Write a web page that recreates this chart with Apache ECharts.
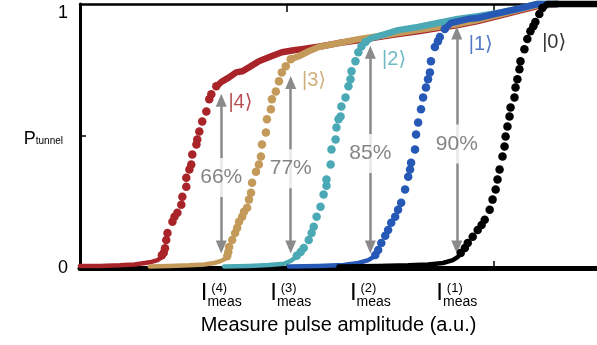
<!DOCTYPE html>
<html>
<head>
<meta charset="utf-8">
<script src="https://cdn.jsdelivr.net/npm/echarts@6.0.0/dist/echarts.min.js"></script>
<style>
  html, body { margin: 0; padding: 0; background: #fff; }
  #chart { width: 597px; height: 345px; }
</style>
</head>
<body>
<div id="chart"></div>
<script>
  // curves: low tail (dense), rising part (dots), upper plateau (dense)
  const ket4Low = [[0, 0.008], [0.096, 0.008], [0.192, 0.010], [0.264, 0.013], [0.313, 0.019], [0.346, 0.023], [0.375, 0.030], [0.394, 0.040]];
  const ket4Rise = [[0.396, 0.048], [0.405, 0.058], [0.411, 0.075], [0.417, 0.106], [0.423, 0.133], [0.447, 0.175], [0.457, 0.194], [0.471, 0.209], [0.490, 0.240], [0.495, 0.270], [0.514, 0.308], [0.514, 0.342], [0.529, 0.373], [0.538, 0.392], [0.543, 0.430], [0.563, 0.468], [0.567, 0.487], [0.577, 0.517], [0.591, 0.555], [0.611, 0.593], [0.625, 0.639], [0.635, 0.658], [0.659, 0.688]];
  const ket4High = [[0.659, 0.688], [0.688, 0.707], [0.721, 0.722], [0.755, 0.741], [0.784, 0.745], [0.817, 0.760], [0.865, 0.783], [0.913, 0.798], [0.976, 0.817], [1.034, 0.825], [1.072, 0.829], [1.168, 0.840], [1.250, 0.852], [1.346, 0.863], [1.442, 0.875], [1.538, 0.886], [1.635, 0.897], [1.731, 0.909], [1.827, 0.920], [1.923, 0.935], [2.019, 0.954], [2.115, 0.973], [2.212, 0.992], [2.308, 1.0]];

  const ket3Low = [[0.337, 0.006], [0.433, 0.008], [0.529, 0.010], [0.601, 0.013], [0.649, 0.019], [0.683, 0.027], [0.705, 0.036]];
  const ket3Rise = [[0.712, 0.045], [0.717, 0.060], [0.721, 0.080], [0.736, 0.106], [0.750, 0.133], [0.760, 0.152], [0.769, 0.175], [0.784, 0.194], [0.793, 0.213], [0.808, 0.228], [0.817, 0.259], [0.827, 0.285], [0.832, 0.323], [0.851, 0.365], [0.865, 0.392], [0.875, 0.422], [0.880, 0.468], [0.899, 0.513], [0.904, 0.563], [0.923, 0.601], [0.928, 0.639], [0.947, 0.669], [0.962, 0.707], [0.976, 0.741], [0.995, 0.764], [1.019, 0.791]];
  const ket3High = [[1.019, 0.791], [1.058, 0.802], [1.106, 0.821], [1.154, 0.837], [1.250, 0.852], [1.346, 0.867], [1.442, 0.878], [1.538, 0.890], [1.635, 0.901], [1.731, 0.913], [1.827, 0.924], [1.923, 0.939], [2.019, 0.958], [2.115, 0.977], [2.212, 0.996], [2.308, 1.0]];

  const ket2Low = [[0.697, 0.006], [0.817, 0.008], [0.913, 0.011], [0.986, 0.016], [1.019, 0.027], [1.040, 0.038]];
  const ket2Rise = [[1.048, 0.046], [1.067, 0.061], [1.082, 0.076], [1.106, 0.106], [1.120, 0.133], [1.130, 0.156], [1.144, 0.194], [1.163, 0.232], [1.178, 0.278], [1.192, 0.312], [1.192, 0.335], [1.212, 0.392], [1.216, 0.449], [1.236, 0.487], [1.240, 0.532], [1.250, 0.563], [1.260, 0.574], [1.264, 0.612], [1.284, 0.646], [1.298, 0.688], [1.308, 0.715], [1.313, 0.745], [1.332, 0.783], [1.346, 0.817], [1.361, 0.840], [1.380, 0.856]];
  const ket2High = [[1.380, 0.856], [1.409, 0.871], [1.476, 0.886], [1.538, 0.901], [1.635, 0.913], [1.731, 0.928], [1.827, 0.943], [1.923, 0.954], [2.019, 0.966], [2.115, 0.981], [2.212, 1.0], [2.308, 1.0]];

  const ket1Low = [[1.010, 0.006], [1.154, 0.008], [1.274, 0.011], [1.346, 0.019], [1.394, 0.030], [1.420, 0.042]];
  const ket1Rise = [[1.428, 0.049], [1.442, 0.068], [1.457, 0.095], [1.476, 0.122], [1.490, 0.144], [1.505, 0.171], [1.524, 0.194], [1.538, 0.221], [1.553, 0.247], [1.572, 0.297], [1.587, 0.346], [1.596, 0.373], [1.601, 0.399], [1.620, 0.449], [1.625, 0.506], [1.635, 0.551], [1.649, 0.601], [1.659, 0.646], [1.673, 0.684], [1.683, 0.715], [1.692, 0.741], [1.697, 0.783], [1.716, 0.837], [1.731, 0.859], [1.740, 0.875], [1.764, 0.905]];
  const ket1High = [[1.764, 0.905], [1.793, 0.928], [1.875, 0.943], [1.923, 0.947], [2.005, 0.962], [2.115, 0.981], [2.212, 1.0], [2.308, 1.0]];

  const ket0Low = [[1.250, 0.006], [1.442, 0.008], [1.587, 0.010], [1.683, 0.013], [1.755, 0.019], [1.803, 0.030], [1.827, 0.042]];
  const ket0Rise = [[1.841, 0.057], [1.861, 0.076], [1.875, 0.095], [1.899, 0.118], [1.923, 0.144], [1.942, 0.163], [1.957, 0.183], [1.981, 0.221], [1.995, 0.259], [2.010, 0.297], [2.019, 0.335], [2.029, 0.373], [2.043, 0.422], [2.053, 0.460], [2.058, 0.498], [2.067, 0.536], [2.077, 0.574], [2.082, 0.608], [2.101, 0.646], [2.106, 0.684], [2.115, 0.715], [2.125, 0.753], [2.130, 0.783], [2.149, 0.829], [2.163, 0.867], [2.178, 0.897], [2.192, 0.916], [2.202, 0.932], [2.221, 0.962], [2.236, 0.985]];
  const ket0High = [[2.236, 0.985], [2.260, 1.0], [2.5, 1.0]];

  const ketNames = ["|4⟩", "|3⟩", "|2⟩", "|1⟩", "|0⟩"];
  const ketLabelPos = [[0.776, 0.627], [1.132, 0.711], [1.519, 0.791], [1.938, 0.848], [2.293, 0.856]];

  // measurement points and the fidelity arrows
  const measX = [0.683, 1.019, 1.404, 1.822];
  const measSup = ["(4)", "(3)", "(2)", "(1)"];
  const fidelity = ["66%", "77%", "85%", "90%"];
  const arrowTop = [0.635, 0.703, 0.817, 0.890];
  const arrowBottom = [0.08, 0.08, 0.08, 0.08];

  const xTicks = [1, 2];
  const yTicks = [0.5];

  const colors = ["#A82428", "#C49A5A", "#4BA8B5", "#2658B6", "#000000"];
  const curves = [
    [ket4Low, ket4Rise, ket4High],
    [ket3Low, ket3Rise, ket3High],
    [ket2Low, ket2Rise, ket2High],
    [ket1Low, ket1Rise, ket1High],
    [ket0Low, ket0Rise, ket0High],
  ];

  const font = "'Liberation Sans', Arial, 'DejaVu Sans', sans-serif";
  const myChart = echarts.init(document.getElementById("chart"));

  const series = [];
  curves.forEach((c, k) => {
    const color = colors[k];
    series.push({
      type: "line",
      data: c[0],
      showSymbol: false,
      clip: false,
      silent: true,
      lineStyle: { color: color, width: 4.5, cap: "round", join: "round" },
      z: 2 + k,
    });
    series.push({
      type: "line",
      data: c[2],
      showSymbol: false,
      clip: false,
      silent: true,
      lineStyle: { color: color, width: 6.5, cap: "round", join: "round" },
      z: 2 + k,
    });
    series.push({
      type: "scatter",
      data: c[1],
      symbolSize: 8.5,
      clip: false,
      silent: true,
      itemStyle: { color: color, opacity: 1 },
      z: 2 + k,
    });
    series.push({
      type: "scatter",
      data: [ketLabelPos[k]],
      symbolSize: 0,
      silent: true,
      label: {
        show: true,
        position: "inside",
        formatter: ketNames[k],
        color: color,
        fontSize: 20,
        fontFamily: font,
      },
      z: 20,
    });
  });

  // arrows
  series.push({
    type: "scatter",
    data: [],
    silent: true,
    z: 15,
    markLine: {
      silent: true,
      animation: false,
      symbol: ["triangle", "triangle"],
      symbolSize: [11, 13],
      label: { show: false },
      lineStyle: { color: "#8A8A8A", width: 2.5, type: "solid" },
      data: measX.map((x, i) => [
        { coord: [x, arrowBottom[i]] },
        { coord: [x, arrowTop[i]] },
      ]),
    },
  });

  // fidelity labels
  series.push({
    type: "scatter",
    data: measX.map((x, i) => [x, (arrowTop[i] + arrowBottom[i]) / 2, fidelity[i]]),
    symbolSize: 0,
    silent: true,
    z: 25,
    label: {
      show: true,
      position: "inside",
      formatter: (p) => p.value[2],
      color: "#666666",
      fontSize: 21,
      fontFamily: font,
      backgroundColor: "#fff",
      padding: [9, 0, 9, 0],
      offset: [0, 4],
    },
  });

  const option = {
    animation: false,
    textStyle: { fontFamily: font },
    grid: { left: 80, top: 4, width: 520, height: 264 },
    xAxis: [
      {
        type: "value",
        position: "bottom",
        min: 0,
        max: 2.5,
        splitLine: { show: false },
        axisLine: { lineStyle: { color: "#000", width: 5 } },
        axisTick: {
          show: true,
          inside: true,
          length: 7,
          customValues: xTicks,
          lineStyle: { color: "#000", width: 1.5 },
        },
        axisLabel: {
          show: true,
          customValues: measX,
          margin: 16,
          color: "#000",
          fontFamily: font,
          formatter: (v) => {
            let i = 0;
            measX.forEach((m, j) => {
              if (Math.abs(m - v) < Math.abs(measX[i] - v)) i = j;
            });
            return "{sup|" + measSup[i] + "}\n{I|I}{sub|meas}";
          },
          rich: {
            sup: { fontSize: 13, lineHeight: 8, padding: [0, 4, 0, 0], color: "#000", fontFamily: font },
            I: { fontSize: 24, lineHeight: 2, color: "#000", fontFamily: font },
            sub: { fontSize: 14, lineHeight: 2, padding: [19, 0, 0, 0], color: "#000", fontFamily: font },
          },
        },
        name: "Measure pulse amplitude (a.u.)",
        nameLocation: "middle",
        nameGap: 47,
        nameTextStyle: { color: "#000", fontSize: 20, fontFamily: font },
      },
      {
        type: "value",
        position: "top",
        min: 0,
        max: 2.5,
        splitLine: { show: false },
        axisLine: { lineStyle: { color: "#000", width: 2.5 } },
        axisTick: {
          show: true,
          inside: true,
          length: 8,
          customValues: xTicks,
          lineStyle: { color: "#000", width: 1.5 },
        },
        axisLabel: { show: false },
      },
    ],
    yAxis: {
      type: "value",
      min: 0,
      max: 1,
      interval: 0.5,
      splitLine: { show: false },
      axisLine: { show: true, lineStyle: { color: "#000", width: 3 } },
      axisTick: {
        show: true,
        inside: true,
        length: 6,
        customValues: yTicks,
        lineStyle: { color: "#000", width: 1.5 },
      },
      axisLabel: {
        margin: 12,
        color: "#000",
        fontFamily: font,
        formatter: (v) => {
          if (v === 0) return "{n|0}";
          if (v === 1) return "{t|1}";
          return "{p|P}{s|tunnel}";
        },
        rich: {
          n: { fontSize: 18, color: "#000", fontFamily: font },
          t: { fontSize: 18, padding: [18, 0, 0, 0], color: "#000", fontFamily: font },
          p: { fontSize: 18, lineHeight: 20, padding: [6, 0, 0, 0], color: "#000", fontFamily: font },
          s: { fontSize: 10, lineHeight: 10, verticalAlign: "bottom", padding: [0, 5, 0, 0], color: "#000", fontFamily: font },
        },
      },
    },
    series: series,
  };

  option && myChart.setOption(option);
</script>
</body>
</html>
